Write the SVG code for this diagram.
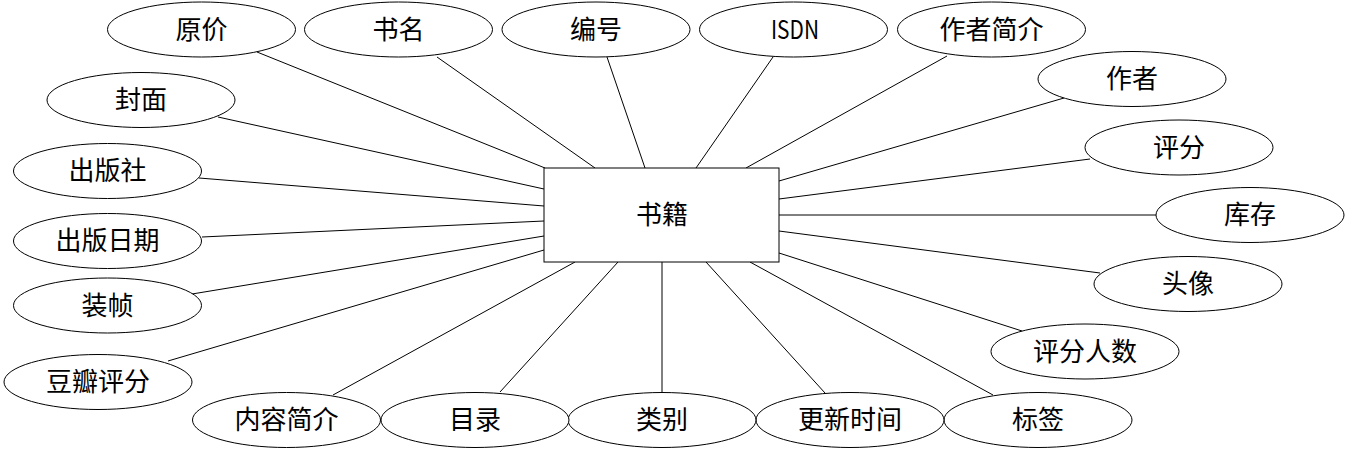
<svg xmlns="http://www.w3.org/2000/svg" width="1348" height="450" viewBox="0 0 1348 450">
<style>
.c line{stroke:#000;stroke-width:1}
.n ellipse,.n rect{fill:#fff;stroke:#000;stroke-width:1}
.n text{font-family:"Noto Sans CJK SC","Liberation Sans",sans-serif;font-size:26px;text-anchor:middle;fill:#000}
</style>
<rect width="1348" height="450" fill="#fff"/>
<g id="connectors" class="c">
<line x1="257" y1="52" x2="545" y2="168"/>
<line x1="437" y1="57" x2="595" y2="168"/>
<line x1="607" y1="57" x2="645" y2="168"/>
<line x1="773" y1="57" x2="696" y2="168"/>
<line x1="947" y1="56" x2="746" y2="168"/>
<line x1="1064" y1="98" x2="779" y2="181"/>
<line x1="1090" y1="159" x2="779" y2="199"/>
<line x1="1156" y1="215" x2="779" y2="215"/>
<line x1="1100" y1="273" x2="779" y2="231"/>
<line x1="1022" y1="331" x2="779" y2="253"/>
<line x1="993" y1="395" x2="750" y2="262"/>
<line x1="825" y1="393" x2="706" y2="262"/>
<line x1="662" y1="392" x2="662" y2="262"/>
<line x1="500" y1="392" x2="618" y2="262"/>
<line x1="333" y1="395" x2="575" y2="262"/>
<line x1="168" y1="361" x2="544" y2="250"/>
<line x1="192" y1="294" x2="544" y2="236"/>
<line x1="202" y1="237" x2="544" y2="221"/>
<line x1="199" y1="178" x2="544" y2="206"/>
<line x1="218" y1="117" x2="544" y2="189"/>
</g>
<g id="book" class="n"><rect x="544" y="168" width="235" height="94"/><text x="662" y="224">书籍</text></g>
<g id="yuanjia" class="n"><ellipse cx="201.5" cy="29.5" rx="94" ry="27.5"/><text x="201.5" y="38.5">原价</text></g>
<g id="shuming" class="n"><ellipse cx="398.5" cy="29.5" rx="94" ry="27.5"/><text x="398.5" y="38.5">书名</text></g>
<g id="bianhao" class="n"><ellipse cx="596" cy="29.5" rx="94" ry="27.5"/><text x="596" y="38.5">编号</text></g>
<g id="isdn" class="n"><ellipse cx="793.5" cy="29.5" rx="94" ry="27.5"/><text x="795" y="38.5" textLength="48" lengthAdjust="spacingAndGlyphs">ISDN</text></g>
<g id="zuozhejianjie" class="n"><ellipse cx="991.5" cy="29.5" rx="94" ry="27.5"/><text x="991.5" y="38.5">作者简介</text></g>
<g id="zuozhe" class="n"><ellipse cx="1132" cy="79" rx="94" ry="27.5"/><text x="1132" y="88">作者</text></g>
<g id="pingfen" class="n"><ellipse cx="1179" cy="147.5" rx="94" ry="27.5"/><text x="1179" y="156.5">评分</text></g>
<g id="kucun" class="n"><ellipse cx="1250" cy="215" rx="94" ry="27.5"/><text x="1250" y="224">库存</text></g>
<g id="touxiang" class="n"><ellipse cx="1188" cy="284" rx="94" ry="27.5"/><text x="1188" y="293">头像</text></g>
<g id="pingfenrenshu" class="n"><ellipse cx="1085" cy="351.5" rx="94" ry="27.5"/><text x="1085" y="360.5">评分人数</text></g>
<g id="biaoqian" class="n"><ellipse cx="1038" cy="420" rx="94" ry="27.5"/><text x="1038" y="429">标签</text></g>
<g id="gengxinshijian" class="n"><ellipse cx="850" cy="420" rx="94" ry="27.5"/><text x="850" y="429">更新时间</text></g>
<g id="leibie" class="n"><ellipse cx="662" cy="420" rx="94" ry="27.5"/><text x="662" y="429">类别</text></g>
<g id="mulu" class="n"><ellipse cx="475" cy="420" rx="94" ry="27.5"/><text x="475" y="429">目录</text></g>
<g id="neirongjianjie" class="n"><ellipse cx="286.5" cy="420" rx="94" ry="27.5"/><text x="286.5" y="429">内容简介</text></g>
<g id="doubanpingfen" class="n"><ellipse cx="98" cy="382" rx="94" ry="27.5"/><text x="98" y="391">豆瓣评分</text></g>
<g id="zhuangzhen" class="n"><ellipse cx="107.5" cy="305.5" rx="94" ry="27.5"/><text x="107.5" y="314.5">装帧</text></g>
<g id="chubanriqi" class="n"><ellipse cx="107.5" cy="241" rx="94" ry="27.5"/><text x="107.5" y="250">出版日期</text></g>
<g id="chubanshe" class="n"><ellipse cx="107.5" cy="171" rx="94" ry="27.5"/><text x="107.5" y="180">出版社</text></g>
<g id="fengmian" class="n"><ellipse cx="141" cy="100" rx="94" ry="27.5"/><text x="141" y="109">封面</text></g>
</svg>
